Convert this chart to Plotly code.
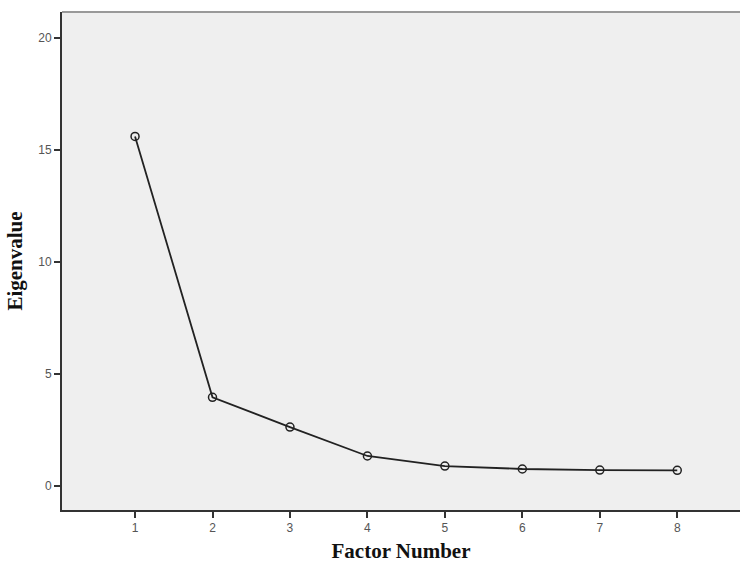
import plotly.graph_objects as go

factors = [1, 2, 3, 4, 5, 6, 7, 8]
eigenvalues = [15.6, 3.96, 2.63, 1.34, 0.89, 0.76, 0.71, 0.70]
y_ticks = [0, 5, 10, 15, 20]

fig = go.Figure()
fig.add_trace(go.Scatter(
    x=factors, y=eigenvalues, mode="lines+markers",
    line=dict(color="#222222", width=1.8),
    marker=dict(symbol="circle-open", size=8, color="#222222", line=dict(width=1.5)),
    showlegend=False,
))

fig.update_layout(
    width=740, height=563,
    margin=dict(l=62, r=0, t=12, b=53),
    paper_bgcolor="white",
    plot_bgcolor="#efefef",
    xaxis=dict(
        range=[0.057, 8.81], tickvals=factors, ticks="outside", ticklen=6,
        tickcolor="#333", tickwidth=1.5,
        showgrid=False, zeroline=False, showline=True, linecolor="#333", linewidth=2,
        tickfont=dict(family="Arial", size=12, color="#555"),
        title=dict(text="<b>Factor Number</b>", standoff=9,
                   font=dict(family="Liberation Serif", size=21, color="#111")),
    ),
    yaxis=dict(
        range=[-1.07, 21.15], tickvals=y_ticks, ticks="outside", ticklen=6,
        tickcolor="#333", tickwidth=1.5,
        showgrid=False, zeroline=False, showline=True, linecolor="#333", linewidth=2,
        tickfont=dict(family="Arial", size=12, color="#555"),
        title=dict(text="<b>Eigenvalue</b>", standoff=10,
                   font=dict(family="Liberation Serif", size=21, color="#111")),
    ),
)
fig.add_shape(type="line", xref="paper", yref="paper", x0=0, x1=1, y0=1, y1=1,
              line=dict(color="#999", width=2))

fig.write_html("out.html", config={"displayModeBar": False},
               post_script="document.body.style.margin='0';document.body.style.overflow='hidden';")
